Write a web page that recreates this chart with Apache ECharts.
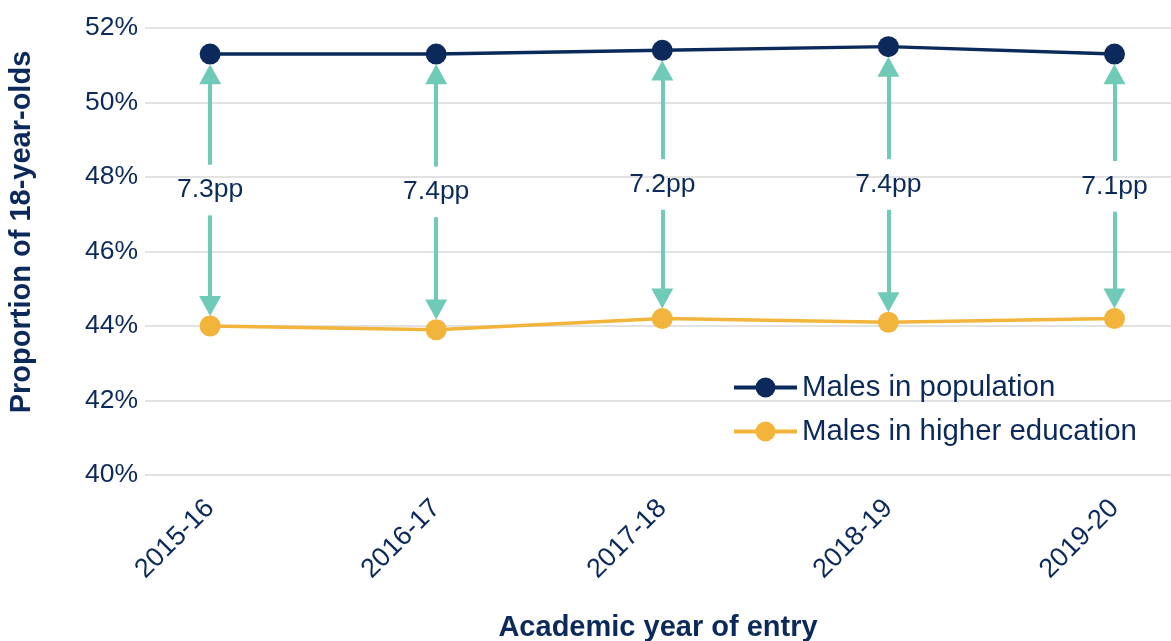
<!DOCTYPE html>
<html>
<head>
<meta charset="utf-8">
<script src="https://cdn.jsdelivr.net/npm/echarts@6/dist/echarts.min.js"></script>
<style>
  html, body { margin: 0; padding: 0; background: #fff; }
  #chart { width: 1171px; height: 641px; }
</style>
</head>
<body>
<div id="chart"></div>
<script>
var years = ["2015-16", "2016-17", "2017-18", "2018-19", "2019-20"];
var population = [51.3, 51.3, 51.4, 51.5, 51.3];
var higherEd = [44.0, 43.9, 44.2, 44.1, 44.2];
var gaps = ["7.3", "7.4", "7.2", "7.4", "7.1"];

var navy = "#0b2a5b";
var orange = "#f2b43a";
var teal = "#6fcab7";
var font = "Liberation Sans";

var chart = echarts.init(document.getElementById("chart"));

// 箭头: 从中间标签处分别指向上下两个点
var arrowLines = [];
var mids = [];
var tipGap = 0.54, labelGap = 0.68;
for (var i = 0; i < years.length; i++) {
   var mid = (population[i] + higherEd[i]) / 2;
   mids.push([i, mid]);
   arrowLines.push([{coord: [i, mid + labelGap]}, {coord: [i, population[i] - tipGap]}]);
   arrowLines.push([{coord: [i, mid - labelGap]}, {coord: [i, higherEd[i] + tipGap]}]);
}

var option = {
   animation: false,
   textStyle: {fontFamily: font},
   grid: {left: 145, right: 0, top: 28, bottom: 166, outerBoundsMode: "none", containLabel: false},
   legend: {
      orient: "vertical",
      left: 727,
      top: 368,
      itemWidth: 63,
      itemHeight: 25,
      itemGap: 15,
      lineStyle: {width: 4},
      data: ["Males in population", "Males in higher education"],
      textStyle: {color: navy, fontSize: 29.4, fontFamily: font}
   },
   xAxis: {
      type: "value",
      min: -0.288,
      max: 4.25,
      name: "Academic year of entry",
      nameLocation: "middle",
      nameGap: 138,
      nameTextStyle: {color: navy, fontSize: 29, fontWeight: "bold", fontFamily: font},
      axisLine: {show: false},
      axisTick: {show: false},
      splitLine: {show: false},
      axisLabel: {
         customValues: [0, 1, 2, 3, 4],
         rotate: 45,
         margin: 29,
         color: navy,
         fontSize: 27,
         fontFamily: font,
         formatter: function (v) { return years[Math.round(v)]; }
      }
   },
   yAxis: {
      type: "value",
      min: 40,
      max: 52,
      interval: 2,
      axisLine: {show: false},
      axisTick: {show: false},
      axisLabel: {color: navy, fontSize: 26.5, fontFamily: font, margin: 7, formatter: "{value}%"},
      splitLine: {lineStyle: {color: "#d9d9d9", width: 1.5}}
   },
   graphic: [{
      type: "text",
      x: 22,
      y: 232,
      rotation: Math.PI / 2,
      style: {
         text: "Proportion of 18-year-olds",
         fill: navy,
         font: "bold 29px " + font,
         align: "center",
         verticalAlign: "middle"
      }
   }],
   series: [
      {
         name: "gap",
         type: "scatter",
         silent: true,
         symbolSize: 0,
         data: mids,
         label: {
            show: true,
            position: "inside",
            color: navy,
            opacity: 1,
            textBorderWidth: 0,
            fontSize: 26.5,
            fontFamily: font,
            formatter: function (p) { return gaps[p.dataIndex] + "pp"; }
         },
         markLine: {
            silent: true,
            symbol: ["none", "triangle"],
            symbolSize: [22, 20],
            label: {show: false},
            lineStyle: {color: teal, width: 4, type: "solid", opacity: 1},
            emphasis: {disabled: true},
            data: arrowLines
         },
         z: 1
      },
      {
         name: "Males in population",
         type: "line",
         data: population.map(function (v, i) { return [i, v]; }),
         symbol: "circle",
         symbolSize: 21,
         color: navy,
         lineStyle: {width: 3.5, color: navy},
         itemStyle: {color: navy},
         z: 3
      },
      {
         name: "Males in higher education",
         type: "line",
         data: higherEd.map(function (v, i) { return [i, v]; }),
         symbol: "circle",
         symbolSize: 21,
         color: orange,
         lineStyle: {width: 3.5, color: orange},
         itemStyle: {color: orange},
         z: 3
      }
   ]
};
chart.setOption(option);
</script>
</body>
</html>
